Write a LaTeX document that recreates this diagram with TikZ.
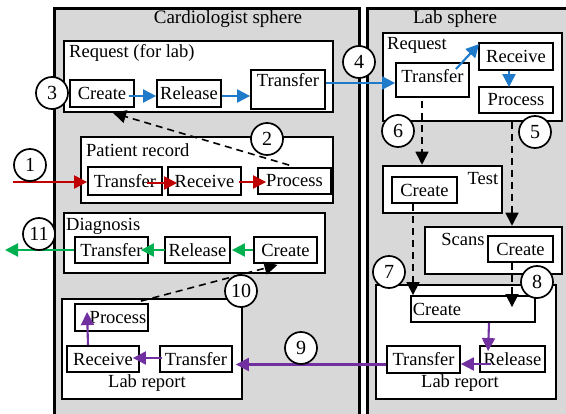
\documentclass[tikz,border=0pt]{standalone}
\usepackage{fontspec}
\setmainfont{Liberation Serif}
\usetikzlibrary{arrows.meta,calc}
\definecolor{spheregray}{HTML}{D8D8D8}
\definecolor{cblue}{HTML}{1F7BC9}
\definecolor{cred}{HTML}{C00000}
\definecolor{cgreen}{HTML}{00B050}
\definecolor{cpurple}{HTML}{7030A0}
\tikzset{
  sphere/.style={draw, fill=spheregray, line width=2.8pt},
  group/.style={draw, fill=white, line width=2.5pt, inner sep=0pt},
  stepbox/.style={draw, fill=white, line width=1.8pt, inner sep=0pt, font=\fontsize{18.5}{20}\selectfont},
  txt/.style={inner sep=0pt, font=\fontsize{18.5}{20}\selectfont},
  title/.style={inner sep=0pt, font=\fontsize{19}{21}\selectfont},
  num/.style={circle, draw, fill=white, line width=1.7pt, minimum size=32pt, inner sep=0pt, font=\fontsize{20}{22}\selectfont},
  flow/.style={line width=2.1pt, -{Triangle[length=13pt,width=13pt]}},
  dep/.style={line width=1.6pt, dash pattern=on 7pt off 5pt, -{Triangle[length=13pt,width=13pt]}, black},
}
\begin{document}
\begin{tikzpicture}[x=1pt,y=-1pt]
\useasboundingbox (0,0) rectangle (566,414);
\clip (0,0) rectangle (566,414);
\fill[white] (0,0) rectangle (566,414);
% spheres
\node[sphere, minimum width=305pt, minimum height=420pt, anchor=north west] (cardio) at (53,7) {};
\node[sphere, minimum width=210pt, minimum height=420pt, anchor=north west] (lab) at (366,7) {};
\node[title] (cardiot) at (228,19) {Cardiologist sphere};
\node[title] (labt) at (455,19) {Lab sphere};

% cardio request
\node[group, minimum width=269pt, minimum height=71pt] (creq) at (198.5,76.5) {};
\node[txt, anchor=west] (creqt) at (69,53) {Request (for lab)};
\node[stepbox, minimum width=64pt, minimum height=27pt] (rcreate) at (102,93.5) {Create};
\node[stepbox, minimum width=64pt, minimum height=27pt] (rrelease) at (189,93.5) {Release};
\node[stepbox, minimum width=74pt, minimum height=39pt] (rtransfer) at (288,89.5) {};
\node[txt] (rtransfert) at (288,80) {Transfer};

% patient record
\node[group, minimum width=252pt, minimum height=66pt] (prec) at (207,170) {};
\node[txt, anchor=west] (prect) at (86,150) {Patient record};
\node[stepbox, minimum width=74pt, minimum height=28pt] (ptransfer) at (125,181) {Transfer};
\node[stepbox, minimum width=73pt, minimum height=28pt] (preceive) at (204.5,181) {Receive};
\node[stepbox, minimum width=73pt, minimum height=26pt] (pprocess) at (294.5,181) {Process};

% diagnosis
\node[group, minimum width=261pt, minimum height=60pt] (diag) at (194.5,243) {};
\node[txt, anchor=west] (diagt) at (66,226) {Diagnosis};
\node[stepbox, minimum width=73pt, minimum height=26pt] (dtransfer) at (111.5,250) {Transfer};
\node[stepbox, minimum width=65pt, minimum height=26pt] (drelease) at (197.5,250) {Release};
\node[stepbox, minimum width=63pt, minimum height=26pt] (dcreate) at (285.5,250) {Create};

% cardio lab report
\node[group, minimum width=180pt, minimum height=100pt] (crep) at (152,349) {};
\node[txt] (crept) at (147,383) {Lab report};
\node[stepbox, minimum width=73pt, minimum height=27pt] (cprocess) at (111.5,317.5) {};
\node[txt] (cprocesst) at (118,317.5) {Process};
\node[stepbox, minimum width=72pt, minimum height=26pt] (creceive) at (103,359) {Receive};
\node[stepbox, minimum width=72pt, minimum height=26pt] (ctransfer) at (196,359) {Transfer};

% lab request
\node[group, minimum width=179pt, minimum height=88pt] (lreq) at (472.5,77) {};
\node[txt, anchor=west] (lreqt) at (387,45) {Request};
\node[stepbox, minimum width=73pt, minimum height=34pt] (ltransfer) at (432.5,80) {};
\node[txt] (ltransfert) at (432.5,76) {Transfer};
\node[stepbox, minimum width=74pt, minimum height=27pt] (lreceive) at (516,56.5) {Receive};
\node[stepbox, minimum width=74pt, minimum height=26pt] (lprocess) at (516,100) {Process};

% test
\node[group, minimum width=119pt, minimum height=47pt] (test) at (442.5,189.5) {};
\node[txt] (testt) at (483,179) {Test};
\node[stepbox, minimum width=65pt, minimum height=26pt] (tcreate) at (424.5,190) {Create};

% scans
\node[group, minimum width=137pt, minimum height=47pt] (scans) at (493.5,250.5) {};
\node[txt] (scanst) at (463,239) {Scans};
\node[stepbox, minimum width=65pt, minimum height=26pt] (screate) at (520.5,249) {Create};

% lab report (lab)
\node[group, minimum width=180pt, minimum height=114pt] (lrep) at (466,342) {};
\node[txt] (lrept) at (460,383) {Lab report};
\node[stepbox, minimum width=124pt, minimum height=26pt] (lrcreate) at (473,309) {};
\node[txt] (lrcreatet) at (437,309) {Create};
\node[stepbox, minimum width=65pt, minimum height=26pt] (lrrelease) at (512.5,359) {Release};
\node[stepbox, minimum width=73pt, minimum height=27pt] (lrtransfer) at (423.5,359.5) {Transfer};

% blue flows
\draw[flow, cblue] ($(rcreate.east)+(-6,2.5)$) -- ($(rcreate.east -| rrelease.west)+(0,2.5)$);
\draw[flow, cblue] ($(rrelease.east)+(0,2.5)$) -- ($(rrelease.east -| rtransfer.west)+(0,2.5)$);
\draw[flow, cblue] ($(rtransfer.east)+(0,-6.5)$) -- ($(ltransfer.west)+(0,3)$);
\draw[flow, cblue] ($(ltransfer.north east)+(-14,7)$) -- ($(lreceive.north west)+(1,2)$);
\draw[flow, cblue] ($(lreceive.south)+(-7,0)$) -- ($(lprocess.north)+(-7,1)$);

% red flows
\coordinate (pin) at (13,182);
\draw[flow, cred] (pin) -- ($(ptransfer.west)+(0,1)$);
\draw[flow, cred] ($(ptransfer.east)+(-16,2)$) -- ($(preceive.west)+(10,2)$);
\draw[flow, cred] ($(preceive.east)+(-3,1)$) -- ($(pprocess.west)+(9,1)$);

% green flows
\coordinate (dout) at (5,250);
\draw[flow, cgreen] (dcreate.west) -- ($(drelease.east)+(1,0)$);
\draw[flow, cgreen] ($(drelease.west)+(1,0)$) -- ($(dtransfer.east)+(-8,0)$);
\draw[flow, cgreen] (dtransfer.west) -- (dout);

% purple flows
\draw[flow, cpurple] ($(lrcreate.south)+(16,0)$) -- ($(lrrelease.north west)+(9,6)$);
\draw[flow, cpurple] ($(lrrelease.west)+(12,5)$) -- ($(lrtransfer.east)+(0,4.5)$);
\draw[flow, cpurple] ($(lrtransfer.west)+(0,5)$) -- ($(ctransfer.east)+(3,5.5)$);
\draw[flow, cpurple] ($(ctransfer.west)+(3,-1)$) -- ($(creceive.east)+(-7,-1)$);
\draw[flow, cpurple] ($(creceive.north)+(-15,0)$) -- ($(cprocess.north west)+(13,9)$);

% dashed dependencies
\draw[dep] ($(pprocess.north west)+(32,-2)$) -- ($(rcreate.south)+(11,5)$);
\draw[dep] ($(ltransfer.south)+(-10.5,3)$) coordinate (d6) -- (d6 |- test.north);
\draw[dep] ($(lreq.south)+(39.5,0)$) coordinate (d5) -- (d5 |- scans.north);
\draw[dep] ($(tcreate.south)+(-11.5,0)$) coordinate (d7) -- (d7 |- lrcreate.north);
\draw[dep] ($(screate.south)+(-8.5,0)$) -- ($(lrcreate.north)+(39,12)$);
\draw[dep] ($(cprocess.north east)+(-8,-2)$) -- ($(dcreate.south)+(-8,1)$);

% numbered circles
\node[num] (n1) at (30,165) {1};
\node[num] (n2) at (267,139) {2};
\node[num] (n3) at (52,93) {3};
\node[num] (n4) at (359,62) {4};
\node[num] (n5) at (535,132) {5};
\node[num] (n6) at (398,131) {6};
\node[num] (n7) at (389,272) {7};
\node[num] (n8) at (537,282) {8};
\node[num] (n9) at (301,348) {9};
\node[num] (n10) at (241,291) {10};
\node[num] (n11) at (39,234) {11};
\end{tikzpicture}
\end{document}
